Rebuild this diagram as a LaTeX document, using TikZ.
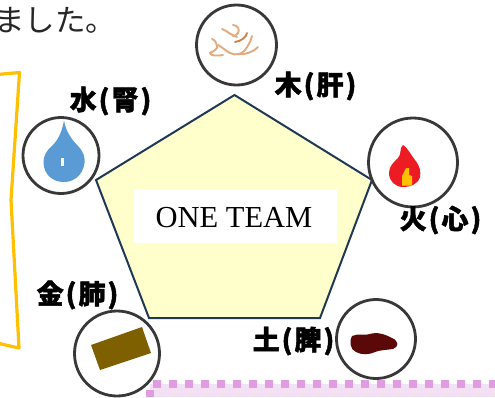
\documentclass[tikz,border=0pt]{standalone}
\usepackage{fontspec}
\setmainfont{Liberation Serif}
\newfontfamily\jp[BoldFeatures={FakeBold=1.6}]{Noto Sans CJK JP}
\definecolor{frameor}{RGB}{255,192,0}
\definecolor{bandpk}{RGB}{243,225,243}
\definecolor{dotpk}{RGB}{224,156,224}
\definecolor{navy}{RGB}{31,56,84}
\definecolor{penty}{RGB}{255,255,204}
\definecolor{rootl}{RGB}{226,170,125}
\definecolor{rootd}{RGB}{205,130,80}
\definecolor{dropb}{RGB}{91,155,213}
\definecolor{firer}{RGB}{237,28,36}
\definecolor{metalb}{RGB}{127,96,0}
\definecolor{earthr}{RGB}{90,8,8}
\newcommand{\elemlabel}[2]{#1\kern2pt(\kern2pt#2\kern2pt)\kern1pt}
\tikzset{
  ring/.style={draw=black!78,line width=2.8pt,circle,inner sep=0pt,fill=white},
  elem/.style={font=\jp\bfseries\fontsize{27}{27}\selectfont,text=black,inner sep=0pt,anchor=center},
  root/.style={draw=#1,line width=1.9pt,line cap=round,line join=round}
}
\begin{document}
\begin{tikzpicture}[x=1pt,y=-1pt]
\useasboundingbox (0,0) rectangle (495,397);
\clip (0,0) rectangle (495,397);
% top text
\node[inner sep=0pt,anchor=west,font=\jp\fontsize{30.5}{30.5}\selectfont,text=black!85] (top) at (-6,20) {ました。};
% orange frame
\draw[draw=frameor,line width=3.2pt,line join=round] (-3,74.5) -- (19.5,72.5) -- (11,200) -- (19,348) -- (-3,343);
% pink band
\fill[fill=bandpk] (150,384) rectangle (495,397);
\draw[draw=dotpk,line width=7.5pt,dash pattern=on 8pt off 8pt] (153,384) -- (495,384);
\fill[fill=dotpk] (146,390) rectangle (154,397);
% pentagon
\draw[draw=navy,fill=penty,line width=2pt,line join=miter] (234.5,95) -- (372,180) -- (320,318) -- (149,318) -- (96,180) -- cycle;
\node[fill=white,minimum width=203pt,minimum height=53pt,inner sep=0pt] (team) at (235.5,216.5) {};
\node[inner sep=0pt,font=\fontsize{30.5}{30.5}\selectfont] (teamtext) at (234,218) {ONE TEAM};
% rings
\node[ring,minimum size=80pt] (wood) at (236.5,45) {};
\node[ring,minimum size=76pt] (water) at (61,155.5) {};
\node[ring,minimum size=89pt] (fire) at (413,162.5) {};
\node[ring,minimum size=85pt] (metal) at (117,353.5) {};
\node[ring,minimum size=79pt] (earth) at (376,339) {};
% wood roots
\draw[root=rootl] (222,29) .. controls (227,31) and (231,35) .. (237,37);
\draw[root=rootl] (233,25) .. controls (238,25) and (240,30) .. (238,33) .. controls (237,35) and (235,36) .. (233,36);
\draw[root=rootd] (247,33) .. controls (246,37) and (242,41) .. (235,42);
\draw[root=rootl] (212,39) .. controls (215,40) and (217,43) .. (217,48) .. controls (215,51) and (211,52) .. (210,53) .. controls (210,56) and (218,56) .. (223,55);
\draw[root=rootl] (218,45) .. controls (222,47) and (226,51) .. (230,53) .. controls (236,56) and (242,54) .. (245,50) .. controls (248,46) and (251,41) .. (252,36);
\draw[root=rootl] (237,54) .. controls (243,55) and (252,53) .. (258,47);
% water drop
\fill[fill=dropb] (64,120.5) .. controls (66,132) and (72,140) .. (78,146) .. controls (84,152) and (85,158) .. (84.5,163) .. controls (83,175) and (74,182) .. (64,182) .. controls (52,182) and (44,174) .. (43.5,163) .. controls (43.5,155) and (47,150) .. (52,146) .. controls (58,140) and (62,132) .. (64,120.5) -- cycle;
\fill[white] (60.5,158) rectangle (64,166);
% fire
\fill[fill=firer] (403,145) .. controls (407,147) and (411,155) .. (415,160) .. controls (420,166) and (421,172) .. (420,177) .. controls (418,184) and (411,187) .. (403,187) .. controls (395,187) and (389,181) .. (389,173) .. controls (389,166) and (394,162) .. (398,158) .. controls (402,154) and (399,148) .. (403,145) -- cycle;
\fill[fill=frameor] (406,168) -- (409,168) -- (409,175) -- (412,176) -- (412,185.5) -- (402,185.5) -- (402,176) -- cycle;
% metal block
\fill[fill=metalb] (91,345) -- (142,327) -- (151,353) -- (100,370) -- cycle;
% earth blob
\fill[fill=earthr] (352,336) .. controls (358,333) and (366,336) .. (372,333.5) .. controls (380,332) and (386,335) .. (392,338) .. controls (399,341) and (399,347) .. (393,349) .. controls (386,350) and (380,350) .. (375,352) .. controls (368,355) and (362,355) .. (356,352) .. controls (350,350) and (349,340) .. (352,336) -- cycle;
% labels
\node[elem] (lwood) at (316,86) {\elemlabel{木}{肝}};
\node[elem] (lwater) at (111,101) {\elemlabel{水}{腎}};
\node[elem] (lfire) at (441,220) {\elemlabel{火}{心}};
\node[elem] (lmetal) at (78,295) {\elemlabel{金}{肺}};
\node[elem] (learth) at (294,341) {\elemlabel{土}{脾}};
\end{tikzpicture}
\end{document}
